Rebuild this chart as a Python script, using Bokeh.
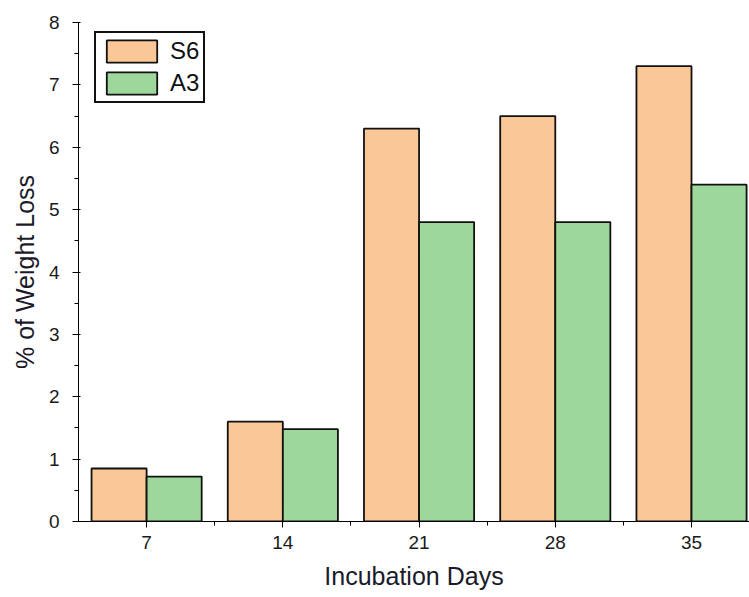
from bokeh.plotting import figure
from bokeh.models import ColumnDataSource, Range1d, FixedTicker, Legend, LegendItem
from bokeh.transform import dodge
from bokeh.embed import file_html
from bokeh.resources import INLINE

days = [7, 14, 21, 28, 35]
s6 = [0.85, 1.60, 6.30, 6.50, 7.30]
a3 = [0.72, 1.48, 4.80, 4.80, 5.40]
y_ticks = [0, 1, 2, 3, 4, 5, 6, 7, 8]

src = ColumnDataSource(dict(days=days, s6=s6, a3=a3))

p = figure(width=749, height=597, output_backend="svg", toolbar_location=None,
           x_range=Range1d(3.5, 37.98), y_range=Range1d(0, 8),
           min_border_left=78, min_border_right=0, min_border_top=22, min_border_bottom=76)
p.outline_line_color = None
p.grid.visible = False

bw = 2.83
r1 = p.vbar(x=dodge("days", -bw / 2, range=None), top="s6", width=bw, source=src,
            fill_color="#FAC796", line_color="#111111", line_width=1.8)
r2 = p.vbar(x=dodge("days", bw / 2, range=None), top="a3", width=bw, source=src,
            fill_color="#9ED79B", line_color="#111111", line_width=1.8)

legend = Legend(items=[LegendItem(label="S6", renderers=[r1]),
                       LegendItem(label="A3", renderers=[r2])],
                location=(16, 418), orientation="vertical")
legend.glyph_width = 63
legend.glyph_height = 28
legend.spacing = 4
legend.padding = 4
legend.margin = 0
legend.label_standoff = 7
legend.label_text_font_size = "24px"
legend.label_text_color = "#111"
legend.border_line_color = "#111"
legend.border_line_alpha = 1
legend.border_line_width = 2
legend.background_fill_alpha = 1
p.add_layout(legend)

p.xaxis.ticker = FixedTicker(ticks=days, minor_ticks=[10.5, 17.5, 24.5, 31.5])
p.xaxis.axis_label = "Incubation Days"
p.yaxis.ticker = FixedTicker(ticks=y_ticks, minor_ticks=[0.5, 1.5, 2.5, 3.5, 4.5, 5.5, 6.5, 7.5])
p.yaxis.axis_label = "% of Weight Loss"

xa = p.xaxis[0]
ya = p.yaxis[0]
xa.major_label_text_font_size = "19px"
ya.major_label_text_font_size = "19px"
xa.major_label_text_color = "#1a1a1a"
ya.major_label_text_color = "#1a1a1a"
xa.axis_label_text_font_size = "25px"
ya.axis_label_text_font_size = "25px"
xa.axis_label_text_font_style = "normal"
ya.axis_label_text_font_style = "normal"
xa.axis_label_text_color = "#1a1a2a"
ya.axis_label_text_color = "#1a1a2a"
xa.major_label_standoff = 8
xa.axis_label_standoff = 10
ya.major_label_standoff = 13
ya.axis_label_standoff = 7

open("out.html", "w").write(file_html(p, INLINE))
